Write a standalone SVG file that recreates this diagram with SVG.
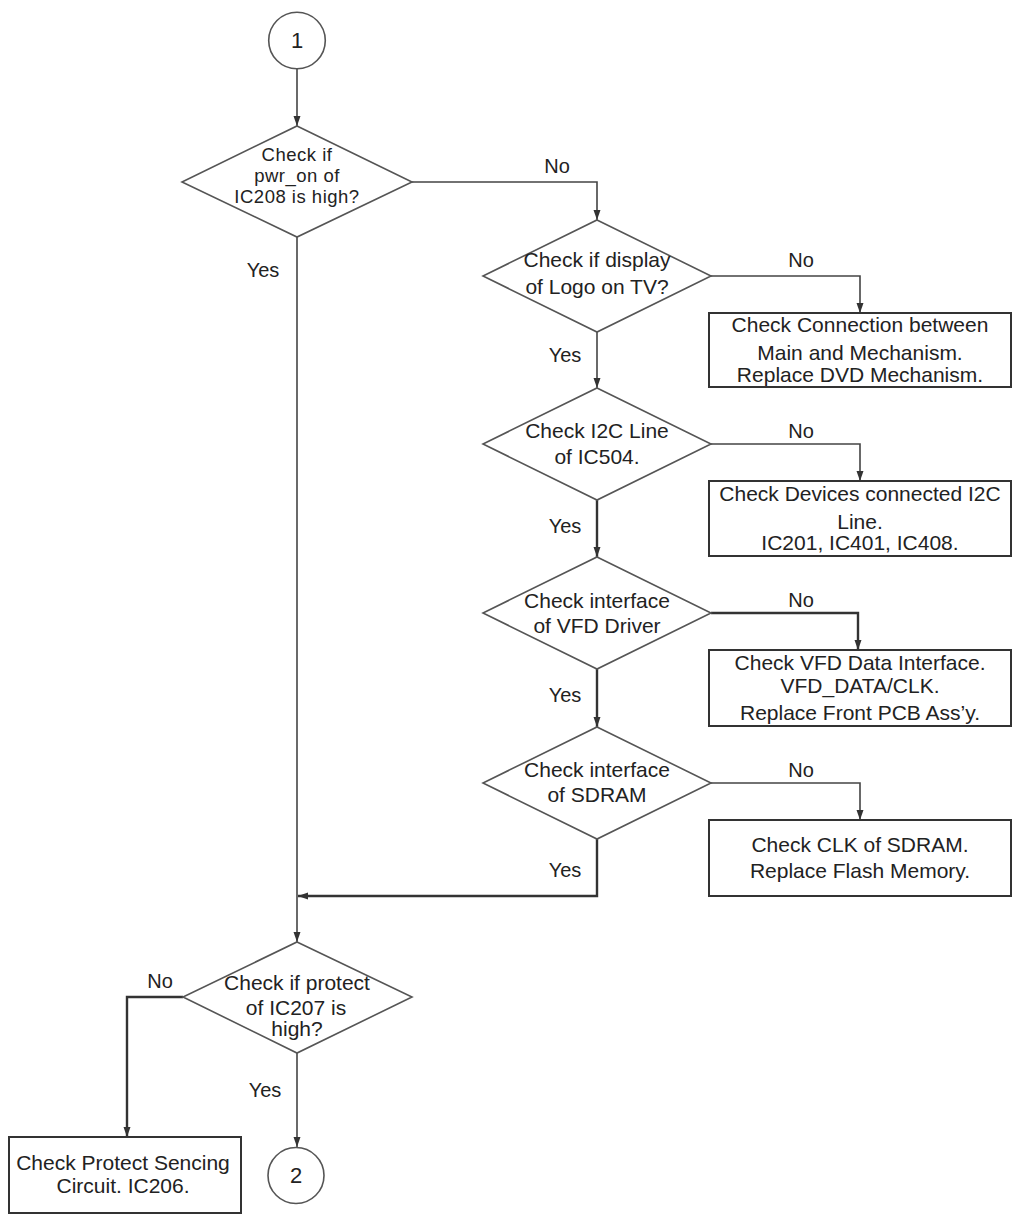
<svg xmlns="http://www.w3.org/2000/svg" width="1020" height="1215" viewBox="0 0 1020 1215">
<style>
.shape{fill:#fff;stroke:#555;stroke-width:1.6}
.box{fill:#fff;stroke:#333;stroke-width:2}
.t{font-family:"Liberation Sans",Arial,sans-serif;font-size:21px;fill:#222;text-anchor:middle}
.ts{font-family:"Liberation Sans",Arial,sans-serif;font-size:18.5px;letter-spacing:0.5px;fill:#222;text-anchor:middle}
.lbl{font-family:"Liberation Sans",Arial,sans-serif;font-size:20px;fill:#222;text-anchor:middle}
.num{font-family:"Liberation Sans",Arial,sans-serif;font-size:22px;fill:#222;text-anchor:middle}
.c{fill:none;stroke:#444;stroke-width:1.6}
.ck{fill:none;stroke:#333;stroke-width:2.4}
</style>
<defs>
<marker id="ah" markerUnits="userSpaceOnUse" markerWidth="10" markerHeight="10" viewBox="0 0 10 10" refX="10" refY="5" orient="auto">
<path d="M0,1.5 L10,5 L0,8.5 Z" fill="#333"/>
</marker>
</defs>

<g id="connectors">
<line class="c" x1="297" y1="69" x2="297" y2="126" marker-end="url(#ah)"/>
<polyline class="c" points="412,182 597,182 597,220" marker-end="url(#ah)"/>
<line class="c" x1="297" y1="237" x2="297" y2="942" marker-end="url(#ah)"/>
<polyline class="c" points="711,276 860,276 860,313" marker-end="url(#ah)"/>
<line class="c" x1="597" y1="332" x2="597" y2="388" marker-end="url(#ah)"/>
<polyline class="c" points="711,444 860,444 860,481" marker-end="url(#ah)"/>
<line class="ck" x1="597" y1="500" x2="597" y2="557" marker-end="url(#ah)"/>
<polyline class="ck" points="711,613 858,613 858,650" marker-end="url(#ah)"/>
<line class="ck" x1="597" y1="669" x2="597" y2="727" marker-end="url(#ah)"/>
<polyline class="c" points="711,783 860,783 860,820" marker-end="url(#ah)"/>
<polyline class="ck" points="597,839 597,896 298,896" marker-end="url(#ah)"/>
<polyline class="ck" points="183,997 127,997 127,1137" marker-end="url(#ah)"/>
<line class="c" x1="297" y1="1053" x2="297" y2="1147" marker-end="url(#ah)"/>
<text class="lbl" x="557" y="173">No</text>
<text class="lbl" x="263" y="277">Yes</text>
<text class="lbl" x="801" y="267">No</text>
<text class="lbl" x="565" y="362">Yes</text>
<text class="lbl" x="801" y="438">No</text>
<text class="lbl" x="565" y="533">Yes</text>
<text class="lbl" x="801" y="607">No</text>
<text class="lbl" x="565" y="702">Yes</text>
<text class="lbl" x="801" y="777">No</text>
<text class="lbl" x="565" y="877">Yes</text>
<text class="lbl" x="160" y="988">No</text>
<text class="lbl" x="265" y="1097">Yes</text>
</g>

<g id="start1">
<circle class="shape" cx="297" cy="40.5" r="28.3"/>
<text class="num" x="297" y="48">1</text>
</g>

<g id="d1">
<polygon class="shape" points="297,126 412,182 297,237 182,182"/>
<text class="ts" x="297" y="161">Check if</text>
<text class="ts" x="297" y="182">pwr_on of</text>
<text class="ts" x="297" y="203">IC208 is high?</text>
</g>

<g id="d2">
<polygon class="shape" points="597,220 711,276 597,332 483,276"/>
<text class="t" x="597" y="267">Check if display</text>
<text class="t" x="597" y="294">of Logo on TV?</text>
</g>

<g id="b2">
<rect class="box" x="709" y="313" width="302" height="74"/>
<text class="t" x="860" y="332">Check Connection between</text>
<text class="t" x="860" y="360">Main and Mechanism.</text>
<text class="t" x="860" y="382">Replace DVD Mechanism.</text>
</g>

<g id="d3">
<polygon class="shape" points="597,388 711,444 597,500 483,444"/>
<text class="t" x="597" y="438">Check I2C Line</text>
<text class="t" x="597" y="464">of IC504.</text>
</g>

<g id="b3">
<rect class="box" x="709" y="481" width="302" height="75"/>
<text class="t" x="860" y="501">Check Devices connected I2C</text>
<text class="t" x="860" y="529">Line.</text>
<text class="t" x="860" y="550">IC201, IC401, IC408.</text>
</g>

<g id="d4">
<polygon class="shape" points="597,557 711,613 597,669 483,613"/>
<text class="t" x="597" y="608">Check interface</text>
<text class="t" x="597" y="633">of VFD Driver</text>
</g>

<g id="b4">
<rect class="box" x="709" y="650" width="302" height="76"/>
<text class="t" x="860" y="670">Check VFD Data Interface.</text>
<text class="t" x="860" y="693">VFD_DATA/CLK.</text>
<text class="t" x="860" y="720">Replace Front PCB Ass’y.</text>
</g>

<g id="d5">
<polygon class="shape" points="597,727 711,783 597,839 483,783"/>
<text class="t" x="597" y="777">Check interface</text>
<text class="t" x="597" y="802">of SDRAM</text>
</g>

<g id="b5">
<rect class="box" x="709" y="820" width="302" height="76"/>
<text class="t" x="860" y="852">Check CLK of SDRAM.</text>
<text class="t" x="860" y="878">Replace Flash Memory.</text>
</g>

<g id="d6">
<polygon class="shape" points="297,942 412,997 297,1053 183,997"/>
<text class="t" x="297" y="990">Check if protect</text>
<text class="t" x="296" y="1015">of IC207 is</text>
<text class="t" x="297" y="1036">high?</text>
</g>

<g id="b6">
<rect class="box" x="9" y="1137" width="232" height="76"/>
<text class="t" x="123" y="1170">Check Protect Sencing</text>
<text class="t" x="123" y="1193">Circuit. IC206.</text>
</g>

<g id="end2">
<circle class="shape" cx="296" cy="1175.5" r="28"/>
<text class="num" x="296" y="1183">2</text>
</g>
</svg>
